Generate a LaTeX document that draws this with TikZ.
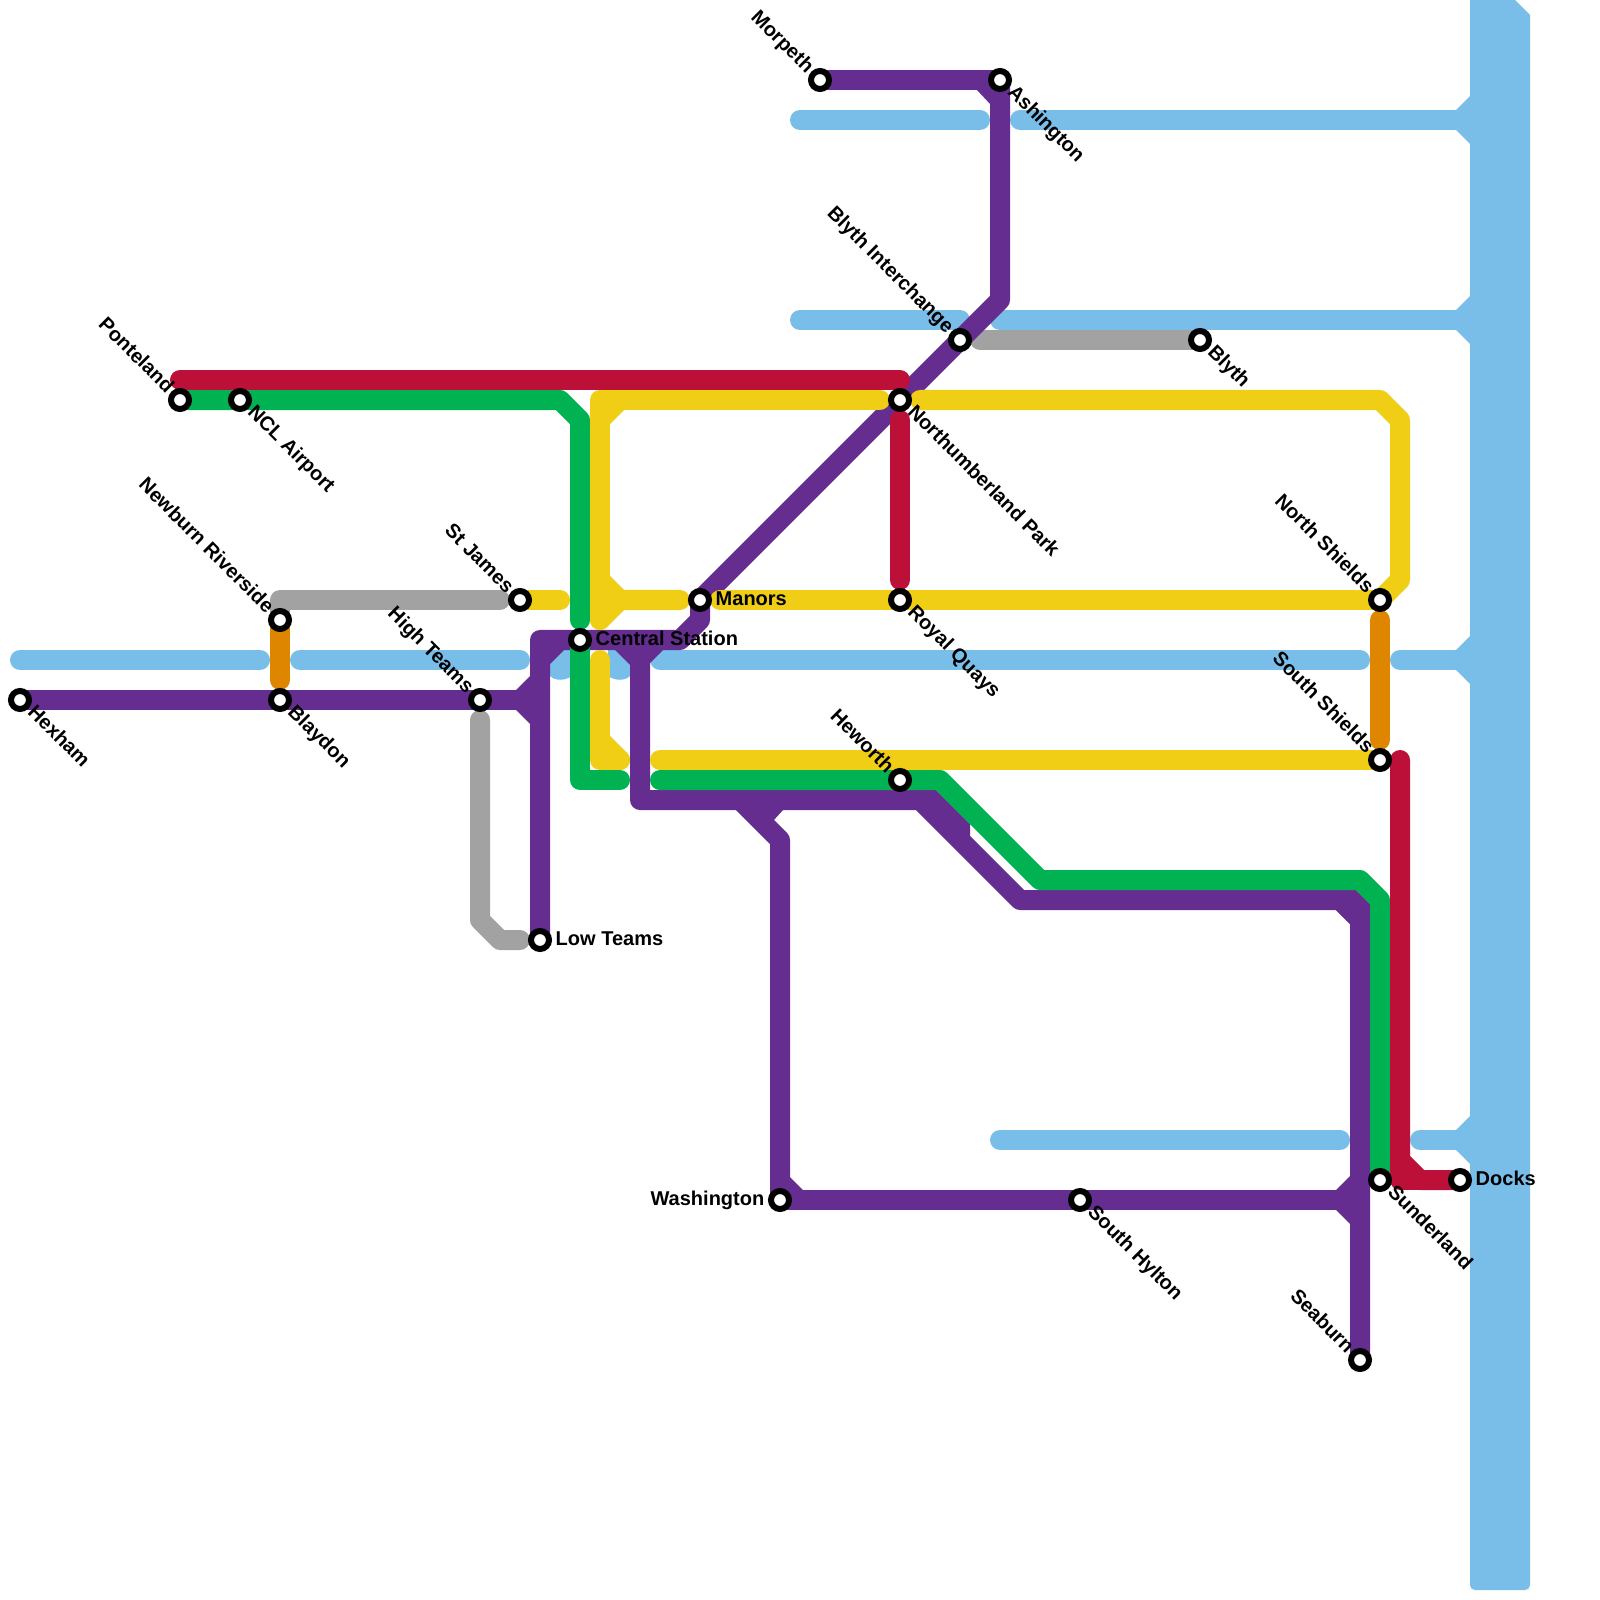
\documentclass[tikz,border=0pt]{standalone}
\usepackage{fontspec}
\setmainfont{Liberation Sans}
\definecolor{water}{HTML}{79BDE9}
\definecolor{purp}{HTML}{662D91}
\definecolor{grn}{HTML}{00B251}
\definecolor{yel}{HTML}{F0CE15}
\definecolor{rd}{HTML}{BD1038}
\definecolor{org}{HTML}{DF8600}
\definecolor{gry}{HTML}{A2A2A2}
\tikzset{
  rail/.style={line width=0.2cm,line cap=round,line join=round,draw=#1},
  stn/.style={circle,draw=black,fill=white,line width=0.06cm,minimum size=0.18cm,inner sep=0pt,outer sep=0pt},
  lab/.style={font=\bfseries\fontsize{5.69}{6.8}\selectfont,inner sep=0pt,text=black},
  lblse/.style={lab,rotate=-45,anchor=mid west},
  lblnw/.style={lab,rotate=-45,anchor=mid east},
  lble/.style={lab,anchor=mid west},
  lblw/.style={lab,anchor=mid east}
}
\begin{document}
\begin{tikzpicture}[x=0.01cm,y=-0.01cm]
\useasboundingbox (0,0) rectangle (1600,1600);
% station positions
\coordinate (hexham) at (20,700);
\coordinate (blaydon) at (280,700);
\coordinate (highteams) at (480,700);
\coordinate (lowteams) at (540,940);
\coordinate (central) at (580,640);
\coordinate (manors) at (700,600);
\coordinate (royal) at (900,600);
\coordinate (northpark) at (900,400);
\coordinate (interchange) at (960,340);
\coordinate (blyth) at (1200,340);
\coordinate (ashington) at (1000,80);
\coordinate (morpeth) at (820,80);
\coordinate (ponteland) at (180,400);
\coordinate (airport) at (240,400);
\coordinate (newburn) at (280,620);
\coordinate (stjames) at (520,600);
\coordinate (heworth) at (900,780);
\coordinate (nshields) at (1380,600);
\coordinate (sshields) at (1380,760);
\coordinate (washington) at (780,1200);
\coordinate (hylton) at (1080,1200);
\coordinate (seaburn) at (1360,1360);
\coordinate (sunderland) at (1380,1180);
\coordinate (docks) at (1460,1180);
% water
\fill[water] (1470,0)--(1515,0)--(1530,15)--(1530,800)[rounded corners=1.4pt]--(1530,1590)--(1470,1590)[sharp corners]--(1470,800)--cycle;
\foreach \yy in {120,320,660,1140}{
  \fill[water] (1456,\yy-10)--(1470,\yy-24)--(1475,\yy-24)--(1475,\yy+24)--(1470,\yy+24)--(1456,\yy+10)--cycle;
}
\draw[rail=water] (800,120)--(980,120);
\draw[rail=water] (1020,120)--(1470,120);
\draw[rail=water] (800,320)--(960,320);
\draw[rail=water] (1000,320)--(1470,320);
\draw[rail=water] (20,660)--(260,660);
\draw[rail=water] (300,660)--(520,660);
\fill[water] (550,648)--(572,648)--(572,676) .. controls (565,681) and (555,681) .. (550,676)--cycle;
\fill[water] (608,648)--(630,648)--(630,676) .. controls (625,681) and (615,681) .. (608,676)--cycle;
\draw[rail=water] (660,660)--(1360,660);
\draw[rail=water] (1400,660)--(1470,660);
\draw[rail=water] (1000,1140)--(1340,1140);
\draw[rail=water] (1420,1140)--(1470,1140);
% grey
\draw[rail=gry] (newburn)--(280,600)--(500,600);
\draw[rail=gry] (480,720)--(480,920)--(500,940)--(520,940);
\draw[rail=gry] (980,340)--(blyth);
% purple
\draw[rail=purp] (hexham)--(540,700);
\fill[purp] (516,690)--(530,676)--(535,676)--(535,724)--(530,724)--(516,710)--cycle;
\draw[rail=purp] (lowteams)--(540,640)--(680,640)--(700,620)--(manors)--(1000,300)--(ashington);
\draw[rail=purp] (morpeth)--(ashington);
\fill[purp] (976,89)--(991,89)--(991,105)--cycle;
\fill[purp] (549,649)--(565,649)--(549,665)--cycle;
\fill[purp] (614,649)--(631,649)--(631,666)--cycle;
\fill[purp] (649,649)--(664,649)--(649,664)--cycle;
\draw[rail=purp] (640,640)--(640,800)--(920,800)--(1020,900)--(1340,900)--(1360,920)--(seaburn);
\fill[purp] (920,790)--(936,790)--(970,824)--(970,838)--(935,808)--(920,808)--cycle;
\fill[purp] (1336,890)--(1356,890)--(1370,904)--(1370,924)--(1350,924)--(1336,910)--cycle;
\draw[rail=purp] (washington)--(780,840)--(740,800);
\fill[purp] (760,809)--(784,809)--(773,821)--cycle;
\fill[purp] (789,1176)--(804,1191)--(789,1191)--cycle;
\draw[rail=purp] (washington)--(1360,1200);
\fill[purp] (1336,1190)--(1350,1176)--(1355,1176)--(1355,1224)--(1350,1224)--(1336,1210)--cycle;
% green
\draw[rail=grn] (ponteland)--(560,400)--(580,420)--(580,620);
\draw[rail=grn] (central)--(580,780)--(620,780);
\draw[rail=grn] (660,780)--(940,780)--(1040,880)--(1360,880)--(1380,900)--(sunderland);
% yellow
\draw[rail=yel] (stjames)--(560,600);
\draw[rail=yel] (600,620)--(600,400)--(880,400);
\fill[yel] (610,410)--(624,410)--(610,424)--cycle;
\draw[rail=yel] (600,620)--(620,600)--(680,600);
\draw[rail=yel] (600,580)--(620,600);
\draw[rail=yel] (720,600)--(royal)--(nshields);
\draw[rail=yel] (920,400)--(1380,400)--(1400,420)--(1400,580)--(nshields);
\draw[rail=yel] (600,660)--(600,760)--(620,760);
\draw[rail=yel] (600,740)--(620,760);
\draw[rail=yel] (660,760)--(sshields);
% red
\draw[rail=rd] (180,380)--(900,380);
\draw[rail=rd] (900,420)--(900,580);
\draw[rail=rd] (1400,760)--(1400,1160)--(1420,1180)--(docks);
\draw[rail=rd] (1400,1160)--(1400,1180)--(1420,1180);
% orange
\draw[rail=org] (280,620)--(280,680);
\draw[rail=org] (1380,620)--(1380,740);
% stations
\foreach \s in {hexham,blaydon,highteams,lowteams,central,manors,royal,northpark,interchange,blyth,ashington,morpeth,ponteland,airport,newburn,stjames,heworth,nshields,sshields,washington,hylton,seaburn,sunderland,docks}{
  \node[stn] (stn-\s) at (\s) {};
}
% labels
\node[lblse] (l-hexham) at ([shift={(13,6)}]hexham) {Hexham};
\node[lblse] (l-blaydon) at ([shift={(13,6)}]blaydon) {Blaydon};
\node[lblse] (l-airport) at ([shift={(13,6)}]airport) {NCL Airport};
\node[lblse] (l-royal) at ([shift={(13,6)}]royal) {Royal Quays};
\node[lblse] (l-north) at ([shift={(13,6)}]northpark) {Northumberland Park};
\node[lblse] (l-blyth) at ([shift={(13,6)}]blyth) {Blyth};
\node[lblse] (l-ash) at ([shift={(13,6)}]ashington) {Ashington};
\node[lblse] (l-hylton) at ([shift={(13,6)}]hylton) {South Hylton};
\node[lblse] (l-sund) at ([shift={(13,6)}]sunderland) {Sunderland};
\node[lblnw] (l-pont) at ([shift={(-7,-12)}]ponteland) {Ponteland};
\node[lblnw] (l-new) at ([shift={(-7,-12)}]newburn) {Newburn Riverside};
\node[lblnw] (l-stj) at ([shift={(-7,-12)}]stjames) {St James};
\node[lblnw] (l-high) at ([shift={(-7,-12)}]highteams) {High Teams};
\node[lblnw] (l-mor) at ([shift={(-7,-12)}]morpeth) {Morpeth};
\node[lblnw] (l-int) at ([shift={(-7,-12)}]interchange) {Blyth Interchange};
\node[lblnw] (l-hew) at ([shift={(-7,-12)}]heworth) {Heworth};
\node[lblnw] (l-nsh) at ([shift={(-7,-12)}]nshields) {North Shields};
\node[lblnw] (l-ssh) at ([shift={(-7,-12)}]sshields) {South Shields};
\node[lblnw] (l-sea) at ([shift={(-7,-12)}]seaburn) {Seaburn};
\node[lble] (l-low) at ([shift={(15,-4)}]lowteams) {Low Teams};
\node[lble] (l-cen) at ([shift={(15,-4)}]central) {Central Station};
\node[lble] (l-man) at ([shift={(15,-4)}]manors) {Manors};
\node[lble] (l-doc) at ([shift={(15,-4)}]docks) {Docks};
\node[lblw] (l-was) at ([shift={(-15,-4)}]washington) {Washington};
\end{tikzpicture}
\end{document}
